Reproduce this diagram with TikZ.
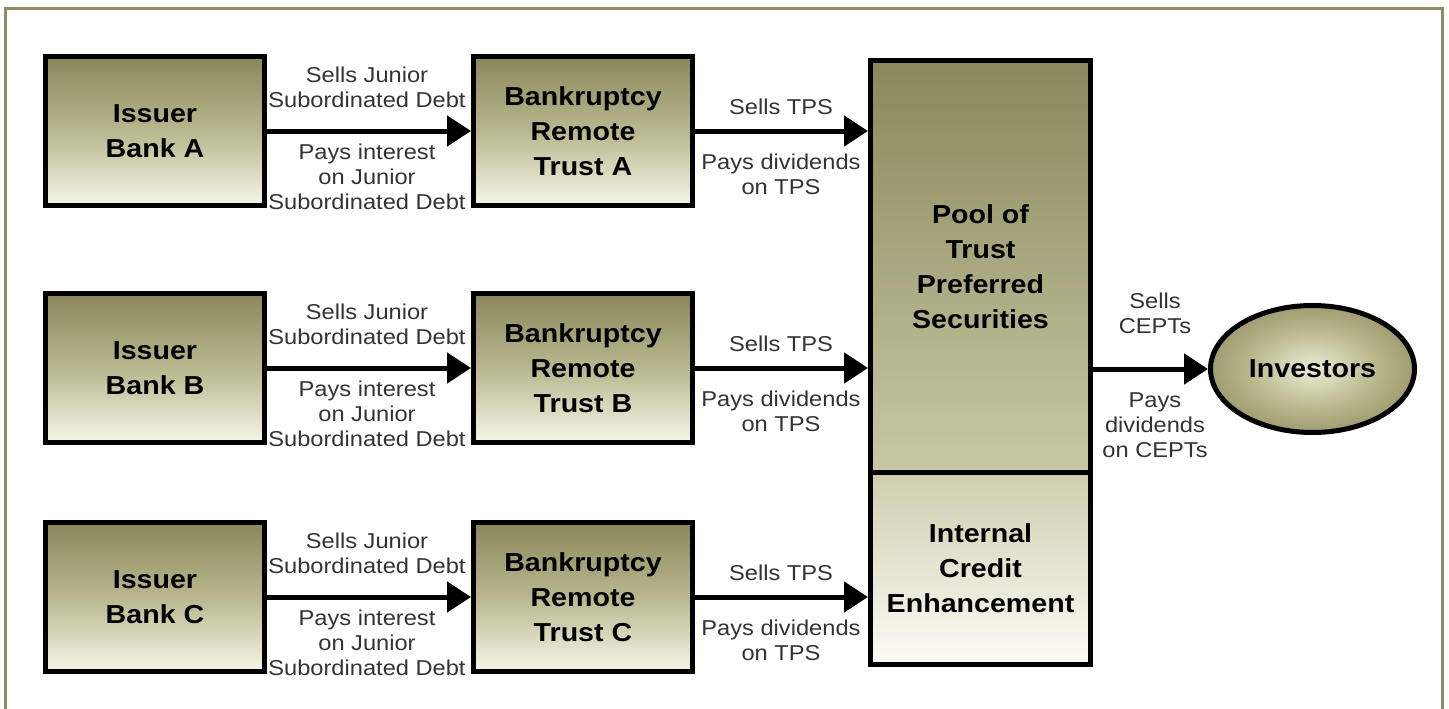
\documentclass[tikz,border=0pt]{standalone}
\usepackage{fontspec}
\setmainfont{Liberation Sans}[FakeStretch=1.1]
\usetikzlibrary{arrows.meta,shapes.geometric}
\definecolor{frame}{RGB}{143,139,104}
\definecolor{olD}{RGB}{138,136,90}
\definecolor{olM}{RGB}{184,183,142}
\definecolor{olL}{RGB}{246,246,232}
\definecolor{poolB}{RGB}{200,200,165}
\definecolor{intT}{RGB}{206,206,174}
\definecolor{intB}{RGB}{252,252,246}
\definecolor{invIn}{RGB}{236,236,214}
\definecolor{invMid}{RGB}{184,182,138}
\definecolor{invOut}{RGB}{126,124,80}
\pgfdeclareradialshading{invshade}{\pgfpoint{0bp}{0bp}}{color(0bp)=(invIn); color(16bp)=(invMid); color(36bp)=(invOut); color(50bp)=(invOut)}
\begin{document}
\begin{tikzpicture}[x=1pt,y=-1pt,
  boxbase/.style={draw=black, line width=5pt, rectangle, inner sep=0pt, align=center,
    font=\fontsize{26}{35}\selectfont\bfseries},
  entity/.style={boxbase, minimum width=219pt, minimum height=149pt,
    top color=olD, bottom color=olL, middle color=olM},
  lbl/.style={font=\fontsize{21.5}{25}\selectfont, align=center, text=black!80, inner sep=0pt},
  flow/.style={line width=5pt, -{Triangle[length=24pt,width=30pt]}},
]
\useasboundingbox (0,0) rectangle (1449,709);
\draw[frame, line width=3pt] (5,712) -- (5,9) -- (1442,9) -- (1442,712);

% pool and internal credit enhancement
\node[boxbase, minimum width=220pt, minimum height=411.5pt, top color=olD, bottom color=poolB]
  (pool) at (980.5,266.25) {Pool of\\Trust\\Preferred\\Securities};
\node[boxbase, minimum width=220pt, minimum height=192.5pt, top color=intT, bottom color=intB]
  (ice) at (980.5,568.25) {Internal\\Credit\\Enhancement};

% investors
\node[ellipse, draw=black, line width=5pt, minimum width=204pt, minimum height=127pt, inner sep=0pt,
  shading=invshade, font=\fontsize{26}{35}\selectfont\bfseries]
  (inv) at (1312.5,369) {Investors};

% rows
\foreach \r/\y/\L/\tgt in {a/131/A/pool, b/368/B/pool, c/597/C/ice}{
  \node[entity] (i\r) at (155,\y) {Issuer\\Bank \L};
  \node[entity] (t\r) at (583,\y) {Bankruptcy\\Remote\\Trust \L};
  \draw[flow] (i\r) -- (t\r);
  \draw[flow] (t\r.east) -- (t\r.east -| \tgt.west);
  \node[lbl] (sj\r) at (367,\y-43.5) {Sells Junior\\Subordinated Debt};
  \node[lbl] (pi\r) at (367,\y+46) {Pays interest\\on Junior\\Subordinated Debt};
  \node[lbl] (st\r) at (781,\y-24) {Sells TPS};
  \node[lbl] (pd\r) at (781,\y+43) {Pays dividends\\on TPS};
}

\draw[flow] (pool.east |- inv.west) -- (inv.west);
\node[lbl] (sc) at (1155,313.5) {Sells\\CEPTs};
\node[lbl] (pc) at (1155,425) {Pays\\dividends\\on CEPTs};
\end{tikzpicture}
\end{document}
